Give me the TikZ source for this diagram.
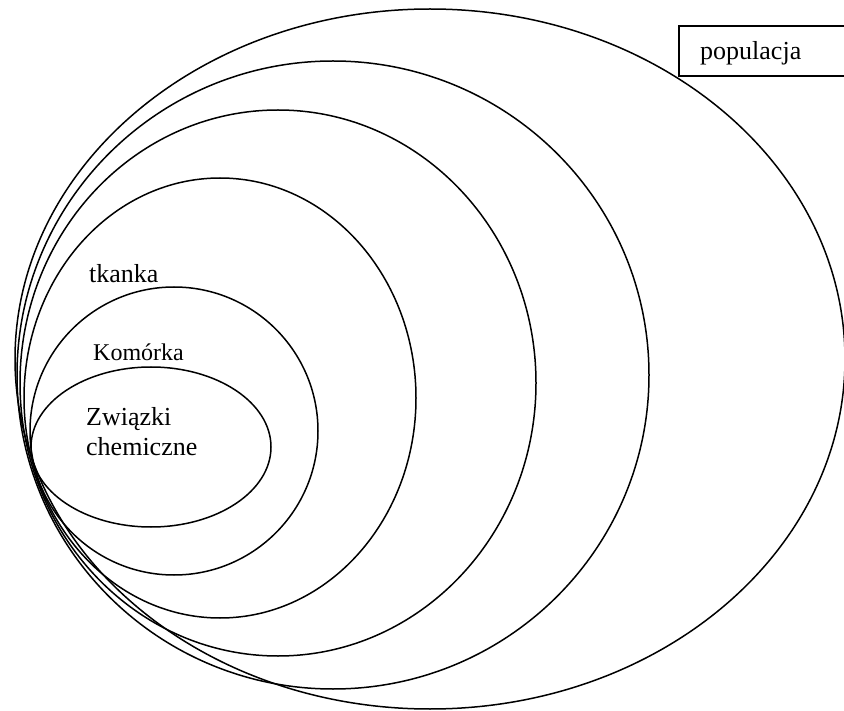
\documentclass[tikz,border=0pt]{standalone}
\usepackage{fontspec}
\setmainfont{Liberation Serif}
\begin{document}
\begin{tikzpicture}[
	x=1pt, y=-1pt,
	ring/.style={
		draw=black,
		line width=1.5pt,
	},
	label/.style={
		anchor=base west,
		inner sep=0pt,
		font=\fontsize{26}{29}\selectfont,
	},
]
\useasboundingbox (0,0) rectangle (844,711);

\draw[ring] (430,359) ellipse (415 and 350);
\draw[ring] (333,375) ellipse (316 and 314);
\draw[ring] (278,383) ellipse (258 and 273);
\draw[ring] (220,398) ellipse (196 and 220);
\draw[ring] (174,431) ellipse (144 and 144);
\draw[ring] (151,447) ellipse (120 and 80);

\node[label] (tk) at (89,283) {tkanka};
\node[label, font=\fontsize{24}{28}\selectfont] (km) at (93,361) {Komórka};
\node[label] (zw) at (86,426) {Związki};
\node[label] (ch) at (86,455) {chemiczne};

\draw[line width=2pt, fill=white] (679,26) rectangle (848,76);
\node[label] (pop) at (700,60) {populacja};

\end{tikzpicture}
\end{document}
